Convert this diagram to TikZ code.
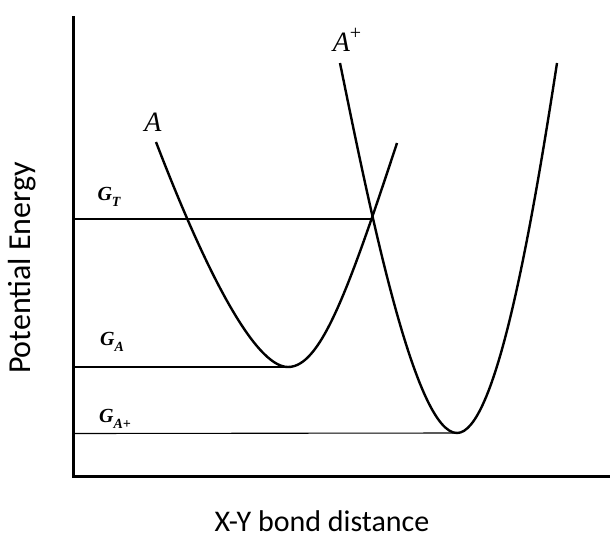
\documentclass[tikz,border=0pt]{standalone}
\usepackage{fontspec}
\newfontfamily\labelfont{Carlito}
\newfontfamily\seriflabel{Liberation Serif}
\begin{document}
\begin{tikzpicture}[x=1pt,y=-1pt,
  axis/.style={line width=3pt},
  curve/.style={line width=2.4pt},
  level/.style={line width=1.1pt},
  axlabel/.style={font=\labelfont\fontsize{30}{36}\selectfont, inner sep=0pt},
  curvelabel/.style={font=\seriflabel\itshape\fontsize{28}{32}\selectfont, inner sep=0pt},
  glabel/.style={font=\seriflabel\bfseries\itshape\fontsize{20}{24}\selectfont, inner sep=0pt}]
\newcommand{\gsub}[1]{\raisebox{-0.3em}{\fontsize{14}{16}\selectfont #1}}
\newcommand{\gsup}[1]{\raisebox{0.45em}{\fontsize{20}{24}\selectfont\upshape #1}}
\useasboundingbox (0,0) rectangle (610,538);
% axes
\coordinate (ytop) at (73,16);
\coordinate (orig) at (73,476);
\coordinate (xend) at (610,476);
\draw[axis] (ytop) -- (orig) -- (xend);
% key points
\coordinate (Atop) at (156,142);
\coordinate (minA) at (288,367);
\coordinate (Aend) at (397,143);
\coordinate (Bptop) at (340,63);
\coordinate (minAp) at (457,433);
\coordinate (Bpend) at (557,63);
% curves
\draw[curve] (Atop) .. controls (216,298) and (260,367) .. (minA)
             .. controls (320,367) and (347,295) .. (Aend);
\draw[curve] (Bptop) .. controls (370,210) and (415,433) .. (minAp)
             .. controls (495,433) and (530,238.5) .. (Bpend);
% levels
\coordinate (cross) at (372,219);
\coordinate (gt0) at (73,219);
\coordinate (ga0) at (73,367);
\coordinate (gap0) at (73,433.5);
\draw[level] (gt0) -- (cross);
\draw[level] (ga0) -- (minA);
\draw[level] (gap0) -- (minAp);
% labels
\node[curvelabel] (lA) at (153,122) {A};
\node[curvelabel] (lAp) at (347,40) {A\gsup{+}};
\node[glabel] (lGT) at (109,197) {G\gsub{T}};
\node[glabel] (lGA) at (112,342) {G\gsub{A}};
\node[glabel] (lGAp) at (115,419) {G\gsub{A+}};
\node[axlabel, font=\labelfont\fontsize{32}{36}\selectfont, rotate=90] (ylab) at (22,268) {Potential Energy};
\node[axlabel] (xlab) at (322,521) {X-Y bond distance};
\end{tikzpicture}
\end{document}
